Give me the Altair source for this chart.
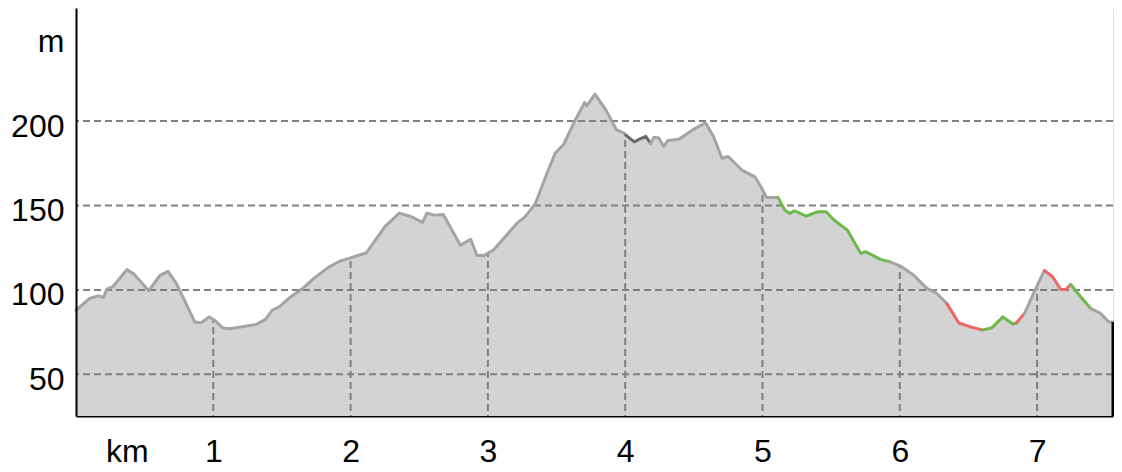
import altair as alt
import pandas as pd

# Elevation profile (distance in km, elevation in m)
km = [0.0, 0.10, 0.165, 0.20, 0.225, 0.27, 0.37, 0.42, 0.53, 0.61, 0.67, 0.73,
      0.865, 0.91, 0.97, 1.01, 1.07, 1.12, 1.31, 1.38, 1.43, 1.48, 1.55, 1.645,
      1.72, 1.84, 1.92, 2.0, 2.115, 2.25, 2.355, 2.44, 2.525, 2.555, 2.61, 2.675,
      2.80, 2.875, 2.92, 2.97, 3.04, 3.115, 3.21, 3.27, 3.345, 3.43, 3.49, 3.55,
      3.63, 3.705, 3.72, 3.78, 3.86, 3.935, 3.995, 4.005, 4.066, 4.10, 4.15, 4.186,
      4.21, 4.245, 4.28, 4.31, 4.39, 4.51, 4.585, 4.644, 4.705, 4.75, 4.85, 4.945,
      4.99, 5.03, 5.113, 5.162, 5.198, 5.234, 5.318, 5.402, 5.463, 5.523, 5.619,
      5.716, 5.752, 5.86, 5.93, 6.005, 6.10, 6.197, 6.27, 6.342, 6.43, 6.51, 6.60,
      6.67, 6.751, 6.823, 6.85, 6.908, 6.992, 7.053, 7.113, 7.173, 7.209, 7.245,
      7.317, 7.39, 7.462, 7.522, 7.553]
elev = [88, 95, 96.5, 95.5, 100.5, 102, 112, 109.5, 99.5, 108.5, 111, 104,
        81, 80.5, 84, 82, 77.5, 77, 79.5, 82.5, 88, 90, 95, 100.5,
        106, 113.5, 117, 119, 122, 137.5, 145.5, 143.5, 140, 145.5, 144.3, 144.7,
        126.5, 130, 120.5, 120.3, 123.6, 130.5, 139.4, 143.3, 151, 169, 181, 186,
        199.6, 211, 209, 216, 206.5, 195, 192.7, 191.7, 187.7, 189.2, 191, 186.8,
        190.5, 190, 185, 188.5, 189.3, 195.7, 199, 190.7, 178, 179, 171, 167,
        161, 154.8, 154.8, 147.3, 145.3, 146.9, 143.7, 146.3, 146.3, 141.3, 135.4,
        121.6, 122.6, 118.1, 116.6, 114.1, 108.8, 100.9, 97.9, 92.0, 80.4, 78.2, 76.3,
        77.5, 84, 79.8, 80.5, 86.1, 101, 111.5, 107.8, 100.2, 100.2, 103.2,
        96, 89.1, 86.1, 81, 81]

# Coloured stretches of the profile line (start km, kind)
seg_start = [0.0, 4.005, 4.186, 5.113, 5.93, 6.342, 6.60, 6.85, 6.908, 7.053, 7.245, 7.39]
seg_kind = ["grey", "dark", "grey", "green", "grey", "red", "green", "red", "grey", "red", "green", "grey"]

kind_domain = ["grey", "dark", "green", "red"]
kind_colors = ["#a4a4a4", "#6a6a6a", "#6cb94b", "#ee6767"]

km_ticks = [1, 2, 3, 4, 5, 6, 7]
elev_grid = [50, 100, 150, 200]
x_label_values = [0.371, 1, 2, 3, 4, 5, 6, 7]
y_label_values = [50, 100, 150, 200, 250]

Y0, Y1 = 25.3, 267.0
X0, X1 = 0.0, 7.553

profile = pd.DataFrame({"km": km, "m": elev})


def kind_at(k):
    kd = seg_kind[0]
    for s, kk in zip(seg_start, seg_kind):
        if k >= s - 1e-9:
            kd = kk
    return kd


rows = []
run = -1
prev = None
for i in range(len(km) - 1):
    kd = kind_at(km[i])
    if kd != prev:
        run += 1
        rows.append({"km": km[i], "m": elev[i], "run": run, "kind": kd, "o": i})
        prev = kd
    rows.append({"km": km[i + 1], "m": elev[i + 1], "run": run, "kind": kd, "o": i + 1})
segments = pd.DataFrame(rows)

xs = alt.Scale(domain=[X0, X1], nice=False, zero=False, padding=0)
ys = alt.Scale(domain=[Y0, Y1], nice=False, zero=False, padding=0)

FONT = "Liberation Sans"

x_axis = alt.Axis(values=x_label_values,
                  labelExpr="datum.value < 0.5 ? 'km' : format(datum.value, 'd')",
                  ticks=False, tickSize=0, grid=False, title=None, domainColor="black",
                  domainWidth=2, labelFont=FONT, labelFontSize=32, labelColor="black",
                  labelPadding=20, labelOverlap=False, labelBound=False, labelFlush=False)
y_axis = alt.Axis(values=y_label_values,
                  labelExpr="datum.value > 220 ? 'm' : format(datum.value, 'd')",
                  ticks=False, tickSize=0, grid=False, title=None, domainColor="black",
                  domainWidth=2, labelFont=FONT, labelFontSize=32, labelColor="black",
                  labelPadding=12, labelOffset=5, labelOverlap=False, labelBound=False,
                  labelFlush=False, zindex=1)

fill = alt.Chart(profile).mark_area(color="#d3d3d3", opacity=1).encode(
    x=alt.X("km:Q", scale=xs, axis=x_axis),
    y=alt.Y("m:Q", scale=ys, axis=y_axis),
    y2=alt.datum(Y0),
)

vgrid = alt.Chart(pd.DataFrame({"km": km_ticks})).mark_rule(
    color="#808080", strokeWidth=2, strokeDash=[7, 4]
).encode(x=alt.X("km:Q", scale=xs))

sky = alt.Chart(profile).mark_area(color="white", opacity=1).encode(
    x=alt.X("km:Q", scale=xs),
    y=alt.Y("m:Q", scale=ys),
    y2=alt.datum(Y1),
)

hgrid = alt.Chart(pd.DataFrame({"m": elev_grid})).mark_rule(
    color="#808080", strokeWidth=2, strokeDash=[7, 4]
).encode(y=alt.Y("m:Q", scale=ys))

line = alt.Chart(segments).mark_line(strokeWidth=3, strokeCap="round", strokeJoin="round").encode(
    x=alt.X("km:Q", scale=xs),
    y=alt.Y("m:Q", scale=ys),
    detail="run:N",
    order="o:Q",
    color=alt.Color("kind:N", scale=alt.Scale(domain=kind_domain, range=kind_colors), legend=None),
)

edge = alt.Chart(profile.tail(1)).mark_rule(color="black", strokeWidth=3).encode(
    x=alt.X("km:Q", scale=xs),
    y=alt.Y("m:Q", scale=ys),
    y2=alt.datum(Y0),
)

chart = alt.layer(fill, vgrid, sky, hgrid, line, edge).properties(
    width=1037, height=408,
    autosize=alt.AutoSizeParams(type="none"),
    padding={"left": 68, "top": 0, "right": 1, "bottom": 48},
).configure_view(stroke=None).configure(background="white")

chart.save("out.html", embed_options={"renderer": "svg", "actions": False})
